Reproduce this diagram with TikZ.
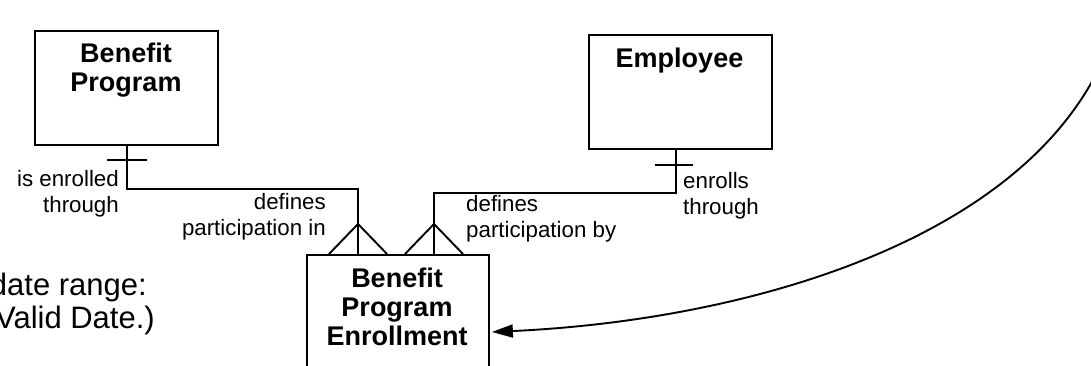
\documentclass[tikz,border=0pt]{standalone}
\usepackage{fontspec}
\setmainfont{Liberation Sans}
\usetikzlibrary{arrows.meta,calc}
\begin{document}
\begin{tikzpicture}[x=1pt,y=-1pt,
  entity/.style={draw,line width=1.9pt,rectangle,inner sep=0pt,anchor=north west},
  etext/.style={font=\fontsize{27}{29}\selectfont\bfseries,align=center,anchor=base,inner sep=0pt},
  rlabel/.style={font=\fontsize{22.3}{26}\selectfont,inner sep=0pt},
  bigtext/.style={font=\fontsize{31}{33}\selectfont,inner sep=0pt,anchor=base east},
  rel/.style={line width=1.9pt},
  crow/.style={line width=1.9pt}]
\useasboundingbox (0,0) rectangle (1091,366);
\clip (0,0) rectangle (1091,366);
% entities
\node[entity,minimum width=183pt,minimum height=114pt] (bp) at (34,30) {};
\node[etext] (bpt) at (126,92) {Benefit\\Program};
\node[entity,minimum width=183pt,minimum height=114pt] (emp) at (588,34) {};
\node[etext] (empt) at (679.5,67.5) {Employee};
\node[entity,minimum width=182pt,minimum height=160pt] (bpe) at (306,254) {};
\node[etext] (bpet) at (397,345) {Benefit\\Program\\Enrollment};
% attach points
\coordinate (bpeA) at ($(bpe.north west)+(52,0)$);
\coordinate (bpeB) at ($(bpe.north west)+(128,0)$);
\coordinate (bpS) at ($(bp.south west)+(93,0)$);
\coordinate (empS) at ($(emp.south west)+(88,0)$);
% relationship lines
\draw[rel] (bpS) |- ($(bpS)+(0,43)$) -| (bpeA);
\draw[rel] (empS) |- ($(empS)+(0,43)$) -| (bpeB);
% one bars
\draw[crow] ($(bpS)+(-20,14)$) -- ($(bpS)+(20,14)$);
\draw[crow] ($(empS)+(-21,15)$) -- ($(empS)+(17,15)$);
% crow's feet
\draw[crow] ($(bpeA)+(-29,0)$) -- ($(bpeA)+(0,-30)$) -- ($(bpeA)+(29,0)$);
\draw[crow] ($(bpeB)+(-29,0)$) -- ($(bpeB)+(0,-30)$) -- ($(bpeB)+(29,0)$);
% labels
\node[rlabel,align=right,anchor=base east] (l1) at (119,212) {is enrolled\\through};
\node[rlabel,align=right,anchor=base east] (l2) at (326,235) {defines\\participation in};
\node[rlabel,align=left,anchor=base west] (l3) at (466,237) {defines\\participation by};
\node[rlabel,align=left,anchor=base west] (l4) at (683,214) {enrolls\\through};
% partial note text
\node[bigtext] (n1) at (147,295) {date range:};
\node[bigtext] (n2) at (155,328) {(Valid Date.)};
% curved arrow
\coordinate (cstart) at (1102,62);
\draw[rel,-{Triangle[length=21pt,width=13pt]}] (cstart) .. controls (1020,240) and (750,320) .. ($(bpe.north east)+(2,78)$);
\end{tikzpicture}
\end{document}
